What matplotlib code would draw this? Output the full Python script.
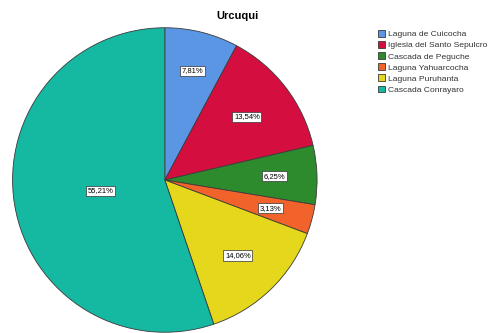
import numpy as np
import matplotlib
matplotlib.use('Agg')
import matplotlib.pyplot as plt

plt.rcParams['font.family'] = ['Liberation Sans', 'DejaVu Sans']

categories = ['Laguna de Cuicocha', 'Iglesia del Santo Sepulcro', 'Cascada de Peguche',
              'Laguna Yahuarcocha', 'Laguna Puruhanta', 'Cascada Conrayaro']
values = [7.81, 13.54, 6.25, 3.13, 14.06, 55.21]
colors = ['#5a96e4', '#d40f3f', '#2d8a2d', '#f2632b', '#e4d71c', '#15b8a0']
label_dist = [0.74, 0.68, 0.72, 0.72, 0.69, 0.43]

fig = plt.figure(figsize=(4.92, 3.33), dpi=100)
ax = fig.add_axes([0.024, 0.0, 0.622, 0.919])

wedges, _ = ax.pie(values, colors=colors, startangle=90, counterclock=False,
                   wedgeprops=dict(edgecolor='#3a3a3a', linewidth=0.6))
ax.set_xlim(-1.005, 1.005)
ax.set_ylim(-1.005, 1.005)
ax.set_aspect('equal')

total = sum(values)
start = 90.0
for v, d in zip(values, label_dist):
    mid = np.deg2rad(start - v / total * 360 / 2)
    start -= v / total * 360
    ax.text(d * np.cos(mid), d * np.sin(mid), f'{v:.2f}%'.replace('.', ','),
            ha='center', va='center', fontsize=5.5,
            bbox=dict(boxstyle='square,pad=0.2', fc='white', ec='#333333', lw=0.5))

fig.text(0.482, 0.952, 'Urcuqui', ha='center', va='center', fontsize=8, fontweight='bold')

leg = fig.legend(wedges, categories, loc='upper left', bbox_to_anchor=(0.762, 0.92),
                 frameon=False, fontsize=6.1, handlelength=0.85, handleheight=0.85,
                 handletextpad=0.25, labelspacing=0.33, borderaxespad=0)
for t in leg.get_texts():
    t.set_color('#333333')

fig.savefig('out.png', dpi=100)
